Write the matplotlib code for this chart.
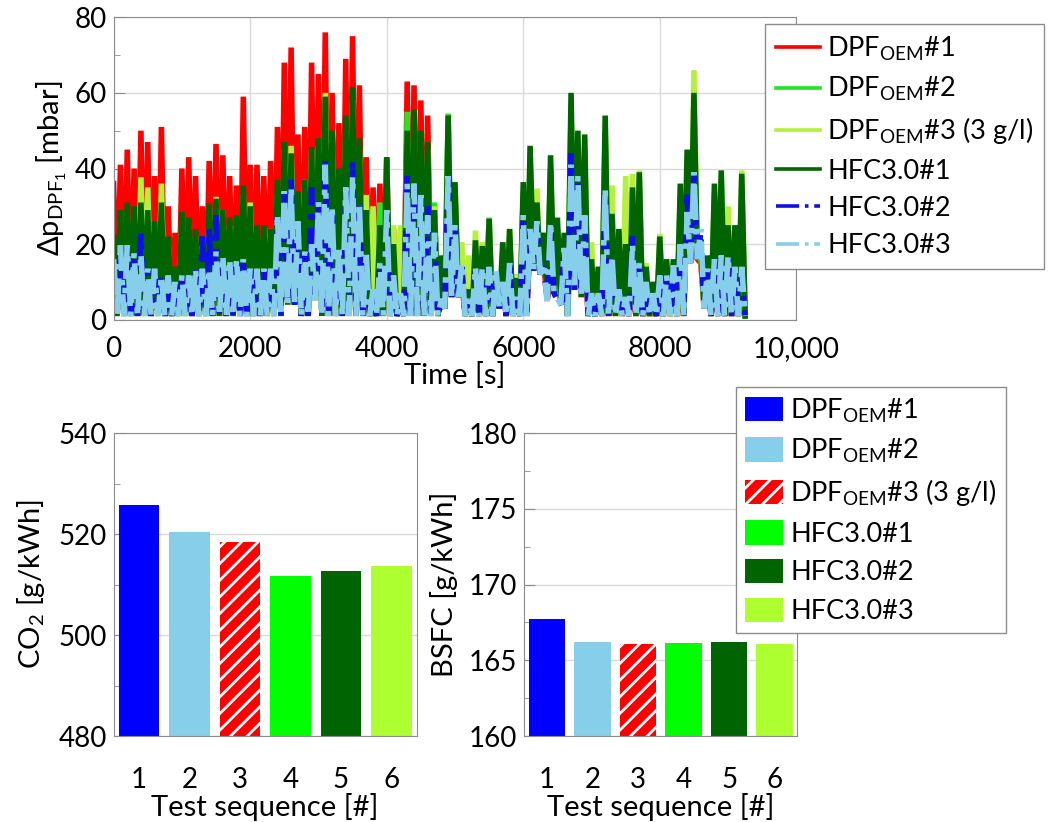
import numpy as np
import matplotlib
matplotlib.use("Agg")
import matplotlib.pyplot as plt
from matplotlib.lines import Line2D
from matplotlib.patches import Patch

plt.rcParams['font.family'] = ['Lato', 'DejaVu Sans']
plt.rcParams['mathtext.fontset'] = 'custom'
plt.rcParams['mathtext.rm'] = 'Lato'
plt.rcParams['mathtext.it'] = 'Lato:italic'
plt.rcParams['mathtext.bf'] = 'Lato:bold'
plt.rcParams['hatch.linewidth'] = 2.0

# pressure drop traces, read per 100 s bin: upper envelope of each run
bin_s = 100
dpf1_hi = [36, 41, 45, 40, 50, 47, 38, 51, 30, 23,
           40, 43, 38, 30, 42, 46.5, 43.5, 38, 35.5, 59,
           41, 41, 38, 42, 51, 68, 72, 49, 51, 68,
           65, 76, 60, 52, 69, 75, 62, 43, 35, 36,
           43, 24, 20, 63, 62, 58, 54, 28, 10, 25,
           30, 10, 7, 15, 15, 15, 10, 12, 12, 10,
           25, 22, 20, 15, 12, 15, 20, 26, 22, 20,
           12, 8, 8, 15, 15, 10, 10, 8, 7, 6,
           10, 10, 8, 8, 30, 30, 15, 12, 10, 10,
           8, 8, 10]
dpf2_hi = [18, 25, 25, 24, 27, 25, 22, 27, 20, 13,
           24, 24, 20, 17, 27, 29, 26, 23, 22, 30,
           22, 22, 22, 24, 30, 42, 40, 30, 33, 42,
           44, 55, 45, 35, 48, 56, 44, 26, 7, 31,
           31, 18, 6, 55, 50, 45, 42, 31, 13, 54.5,
           34, 11, 7, 19, 17, 27, 10, 18, 22, 12,
           33, 42, 29, 20, 40, 24, 20, 55, 45, 44,
           14, 12, 50, 25, 22, 18, 34, 36, 12, 9,
           20, 14, 14, 32.5, 41, 55, 17, 15, 33, 36,
           22, 22, 35]
dpf3_hi = [15, 26, 28, 26, 37.7, 35, 24, 36, 20, 12,
           26, 25, 22, 20, 28, 32.5, 29, 25, 25, 33,
           31, 23, 23, 24, 33, 45, 46, 32, 37, 45,
           46, 60, 48, 36, 50, 58, 45, 33, 30, 22,
           40, 25, 25, 48, 52, 47, 45, 30, 12, 50,
           35, 20.5, 17, 23.6, 20.5, 26.7, 10, 18, 24, 12,
           34, 44, 34.7, 22, 40, 24, 22, 55, 44, 46,
           20.5, 14, 50, 35.5, 24, 38, 38.6, 39.5, 15, 10,
           22.7, 14, 16, 32, 42, 66, 18, 15, 34, 38,
           30, 24, 39.5]
hfc1_hi = [22, 29, 31, 30, 31, 29, 26, 31, 22, 14,
           28.5, 27, 24, 20.5, 30.7, 32, 29, 27, 27.6, 35.5,
           30, 25, 25, 24, 37, 47, 44, 34, 37, 45.7,
           48, 59, 50, 40, 54, 61.5, 48, 29, 8, 25,
           43, 20, 6, 50, 55.5, 50, 47, 29, 17, 54,
           36.4, 13.5, 8, 21, 19.5, 26.7, 11.7, 20.5, 24, 11,
           36.4, 46, 31, 23, 43.5, 27, 23, 60, 50, 49,
           16, 14, 54, 28, 24, 20, 35, 39, 14, 10,
           22, 16, 16, 36, 45, 60, 19, 17, 36, 39.5,
           25, 25, 38.6]
hfc2_hi = [15, 18, 18, 16, 22.7, 13, 12, 11, 11, 10,
           11, 11, 13, 22, 24, 27.6, 16, 15, 15, 15,
           13, 13, 13, 13, 27, 35, 37, 25, 17, 35,
           32, 42, 29, 18, 34, 42, 30, 17, 7, 14,
           28, 11, 6, 38, 35, 32, 30, 22, 5, 37,
           24, 14, 5, 13, 13, 13, 12, 9, 14, 5,
           26, 23, 25, 14, 25, 5, 18, 44, 37, 26,
           6, 6, 33, 16, 7, 5, 22, 14, 9, 6,
           11, 11, 14, 19, 33.8, 39, 23, 13, 15, 16,
           16, 13, 13]
hfc3_hi = [16, 19.7, 19.7, 17.5, 17.5, 13.5, 13.5, 11.7, 11.7, 10,
           11.7, 11.7, 13.5, 13.5, 13.5, 18, 17, 16, 16, 16,
           13.5, 13.5, 13.5, 13.5, 28, 34, 35, 26, 18, 20,
           31, 41, 30, 19, 35, 38, 31, 18, 8, 15,
           29, 11.7, 7, 36, 36, 33, 27.6, 23, 5.5, 38,
           25, 15, 5.5, 14, 14, 14, 13.5, 10, 15, 6,
           27.6, 24, 26, 15, 26, 5.5, 19, 41, 38, 27.6,
           7, 7, 34.7, 17, 8, 6, 20, 15, 10, 7,
           11.7, 11.7, 14.4, 20, 28.5, 39, 24, 13.5, 16, 17,
           17, 14, 14]
# lower envelope shared by the traces (white gaps near the floor)
floor_lo = [1, 1, 1, 1, 1, 1, 1, 1, 1, 1,
            1, 1, 1, 1, 1, 1, 1, 1, 1, 1,
            1, 1, 1, 1, 1, 4, 4, 1, 1, 5,
            1, 1, 1, 1, 1, 1, 1, 1, 1, 1,
            1, 1, 1, 1, 1, 1, 1, 1, 3, 6,
            6, 1, 1, 1, 1, 1, 3, 1, 1, 1,
            1, 13, 12, 5, 7, 4, 1, 8, 6, 1,
            1, 1, 1, 1, 1, 1, 1, 1, 1, 1,
            1, 1, 1, 1, 15, 16, 3, 1, 1, 1,
            1, 1, 1]

# bar charts
seq = [1, 2, 3, 4, 5, 6]
co2 = [525.7, 520.5, 518.5, 511.6, 512.7, 513.6]
bsfc = [167.7, 166.2, 166.05, 166.15, 166.2, 166.05]

line_labels = [r'DPF$_{\mathrm{OEM}}$#1', r'DPF$_{\mathrm{OEM}}$#2',
               r'DPF$_{\mathrm{OEM}}$#3 (3 g/l)', 'HFC3.0#1', 'HFC3.0#2', 'HFC3.0#3']
line_colors = ['#ff0000', '#22e622', '#b5f03c', '#006400', '#1010e0', '#87ceeb']
line_styles = ['-', '-', '-', '-', '-.', '-.']

bar_colors = ['#0000ff', '#87ceeb', '#ff0000', '#00ff00', '#006400', '#adff2f']
bar_hatch = ['', '', '//', '', '', '']


def zigzag(hi, lo):
    # alternate bin maximum and the floor half a bin later
    t = np.arange(len(hi)) * bin_s
    x = np.empty(2 * len(hi))
    y = np.empty(2 * len(hi))
    x[0::2] = t
    x[1::2] = t + bin_s / 2
    y[0::2] = hi
    y[1::2] = lo
    return x, y


fig = plt.figure(figsize=(10.52, 8.22), dpi=100)
grey = '#8c8c8c'
fs_tick = 20
fs_lab = 21
fs_leg = 19.5

# ---- top: pressure drop vs time ----
ax = fig.add_axes([0.108, 0.611, 0.649, 0.368])
traces = [dpf1_hi, dpf2_hi, dpf3_hi, hfc1_hi, hfc2_hi, hfc3_hi]
for hi, c, ls in zip(traces, line_colors, line_styles):
    x, y = zigzag(hi, floor_lo)
    ax.plot(x, y, color=c, ls=ls, lw=4.0, solid_joinstyle='bevel',
            dash_joinstyle='bevel')
ax.set_xlim(0, 10000)
ax.set_ylim(0, 80)
ax.set_xticks([0, 2000, 4000, 6000, 8000, 10000])
ax.set_xticklabels(['0', '2000', '4000', '6000', '8000', '10,000'])
ax.set_yticks([0, 20, 40, 60, 80])
ax.set_yticks([10, 30, 50, 70], minor=True)
ax.grid(True, color='#d9d9d9', lw=1)
ax.set_axisbelow(True)
ax.set_xlabel('Time [s]', fontsize=fs_lab, labelpad=0)
ax.set_ylabel(r'Δp$_{\mathrm{DPF}_1}$ [mbar]', fontsize=fs_lab, labelpad=4)

handles = [Line2D([], [], color=c, ls=ls, lw=2.6) for c, ls in zip(line_colors, line_styles)]
fig.legend(handles, line_labels, loc='upper left', bbox_to_anchor=(0.727, 0.971),
           fontsize=fs_leg, frameon=True, fancybox=False, edgecolor=grey, framealpha=1,
           handlelength=1.65, handletextpad=0.25, labelspacing=0.45, borderpad=0.4,
           borderaxespad=0)

# ---- bottom left: CO2 ----
ax2 = fig.add_axes([0.108, 0.1046, 0.288, 0.3686])
ax2.bar(seq, [v - 480 for v in co2], bottom=480, width=0.8, color=bar_colors,
        hatch=bar_hatch, edgecolor=['none', 'none', 'white', 'none', 'none', 'none'], lw=0)
ax2.set_xlim(0.5, 6.5)
ax2.set_ylim(480, 540)
ax2.set_yticks([480, 500, 520, 540])
ax2.set_yticks([490, 510, 530], minor=True)
ax2.set_xticks(seq)
ax2.set_xlabel('Test sequence [#]', fontsize=fs_lab, labelpad=0)
ax2.set_ylabel(r'CO$_2$ [g/kWh]', fontsize=fs_lab, labelpad=8)

# ---- bottom right: BSFC ----
ax3 = fig.add_axes([0.4984, 0.1046, 0.2595, 0.3686])
ax3.bar(seq, [v - 160 for v in bsfc], bottom=160, width=0.8, color=bar_colors,
        hatch=bar_hatch, edgecolor=['none', 'none', 'white', 'none', 'none', 'none'], lw=0)
ax3.set_xlim(0.5, 6.5)
ax3.set_ylim(160, 180)
ax3.set_yticks([160, 165, 170, 175, 180])
ax3.set_yticks([162.5, 167.5, 172.5, 177.5], minor=True)
ax3.set_xticks(seq)
ax3.set_xlabel('Test sequence [#]', fontsize=fs_lab, labelpad=0)
ax3.set_ylabel('BSFC [g/kWh]', fontsize=fs_lab, labelpad=8)

for a in (ax2, ax3):
    a.yaxis.grid(True, color='#d9d9d9', lw=1)
    a.set_axisbelow(True)
    a.tick_params(axis='x', length=0, pad=22, labelsize=fs_tick)

for a in (ax, ax2, ax3):
    for s in a.spines.values():
        s.set_color(grey)
    a.tick_params(axis='y', which='major', direction='in', length=8, color=grey,
                  labelsize=fs_tick, pad=5)
    a.tick_params(axis='y', which='minor', direction='in', length=4, color=grey)
ax.tick_params(axis='x', direction='in', length=0, labelsize=fs_tick, pad=12)

bar_handles = [Patch(facecolor=c, hatch=h, edgecolor='white' if h else 'none', lw=0)
               for c, h in zip(bar_colors, bar_hatch)]
fig.legend(bar_handles, line_labels, loc='upper left', bbox_to_anchor=(0.6996, 0.5292),
           fontsize=fs_leg, frameon=True, fancybox=False, edgecolor=grey, framealpha=1,
           handlelength=1.4, handleheight=1.0, handletextpad=0.25, labelspacing=0.45,
           borderpad=0.35, borderaxespad=0)

fig.savefig('out.png', dpi=100)
